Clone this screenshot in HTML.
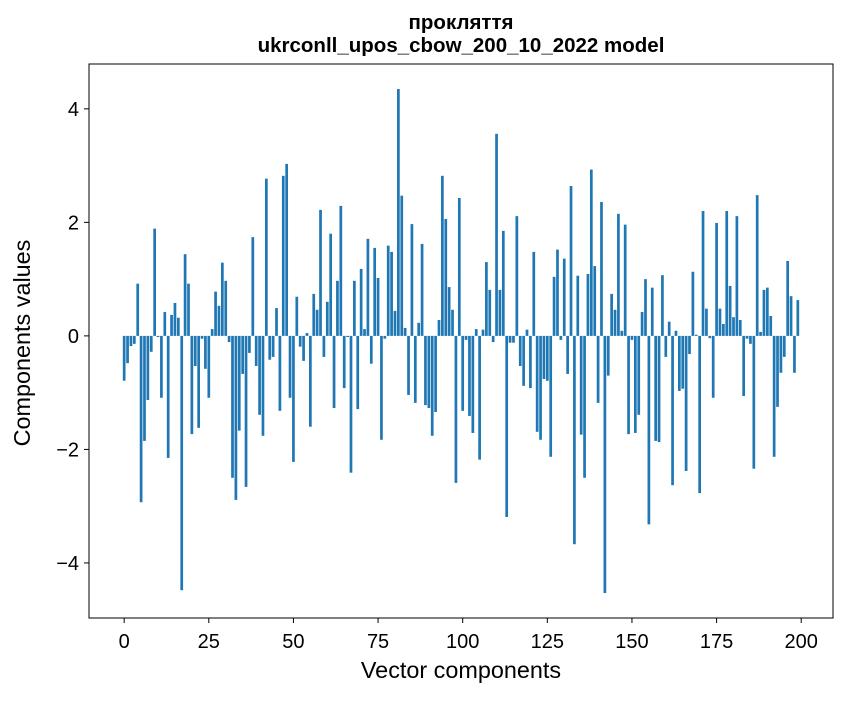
<!DOCTYPE html>
<html><head><meta charset="utf-8"><style>
body{margin:0;background:#fff;}
svg text{font-family:"Liberation Sans","DejaVu Sans",sans-serif;}
</style></head><body>
<svg id="chart" width="847" height="696" xmlns="http://www.w3.org/2000/svg">
<rect width="847" height="696" fill="#fff"/>
<text x="461" y="29" text-anchor="middle" font-size="20.5" font-weight="bold">прокляття</text>
<text x="461" y="52" text-anchor="middle" font-size="20.5" font-weight="bold">ukrconll_upos_cbow_200_10_2022 model</text>
<g id="bars"></g>
<g id="xticks"></g>
<g id="yticks"></g>
<rect x="89" y="64" width="744" height="554" fill="none" stroke="#000" stroke-width="1"/>
<text x="461" y="678" text-anchor="middle" font-size="23.4">Vector components</text>
<text transform="translate(30,343) rotate(-90)" text-anchor="middle" font-size="23.4">Components values</text>
</svg>
<script>
const values = [
-0.79,-0.48,-0.18,-0.14,0.92,-2.93,-1.85,-1.13,-0.28,1.89,
-0.02,-1.09,0.42,-2.15,0.37,0.58,0.32,-4.48,1.44,0.92,
-1.73,-0.53,-1.62,-0.05,-0.58,-1.09,0.12,0.78,0.53,1.29,
0.97,-0.11,-2.5,-2.89,-1.67,-0.67,-2.66,-0.3,1.74,-0.53,
-1.39,-1.76,2.77,-0.42,-0.37,0.49,-1.32,2.82,3.03,-1.09,
-2.22,0.69,-0.19,-0.44,0.05,-1.6,0.74,0.46,2.22,-0.37,
0.6,1.8,-1.27,0.97,2.29,-0.92,-0.02,-2.41,0.97,-1.29,
1.18,0.12,1.71,-0.49,1.55,1.02,-1.83,-0.05,1.59,1.48,
0.44,4.35,2.47,0.14,-1.04,1.97,-1.18,0.23,1.62,-1.22,
-1.27,-1.76,-1.34,0.28,2.82,2.06,0.86,0.46,-2.59,2.43,
-1.32,-0.07,-1.41,-1.71,0.12,-2.18,0.11,1.3,0.81,-0.11,
3.56,0.81,1.85,-3.19,-0.12,-0.12,2.11,-0.53,-0.88,0.11,
-0.92,1.48,-1.69,-1.83,-0.76,-0.79,-2.13,1.04,1.52,-0.07,
1.36,-0.67,2.64,-3.67,1.06,-1.74,-2.5,1.09,2.93,1.23,
-1.18,2.36,-4.53,-0.7,0.74,0.46,2.15,0.09,1.96,-1.73,
-0.07,-1.71,-1.39,0.42,1.0,-3.32,0.85,-1.85,-1.87,1.07,
-0.37,0.25,-2.63,0.09,-0.97,-0.93,-2.38,-0.32,1.13,0.02,
-2.77,2.2,0.48,-0.04,-1.09,1.99,0.48,0.21,2.2,0.88,
0.33,2.11,0.28,-1.06,-0.05,-0.14,-2.34,2.48,0.07,0.81,
0.85,0.35,-2.13,-1.25,-0.65,-0.37,1.32,0.7,-0.65,0.63
];
const xTicks = [0,25,50,75,100,125,150,175,200];
const yTicks = [-4,-2,0,2,4];
const yTickLabels = ["\u22124","\u22122","0","2","4"];

const L=89,R=833,T=64,B=618;
const xMin=-10.39,xMax=209.39,yMin=-4.97,yMax=4.79;
function xs(v){return L+(v-xMin)/(xMax-xMin)*(R-L);}
function ys(v){return B-(v-yMin)/(yMax-yMin)*(B-T);}
const NS="http://www.w3.org/2000/svg";
const bars=document.getElementById('bars');
values.forEach((v,i)=>{
  const r=document.createElementNS(NS,'rect');
  const x0=xs(i-0.4),x1=xs(i+0.4);
  const y0=ys(Math.max(v,0)),y1=ys(Math.min(v,0));
  r.setAttribute('x',x0);r.setAttribute('width',x1-x0);
  r.setAttribute('y',y0);r.setAttribute('height',Math.max(y1-y0,0.3));
  r.setAttribute('fill','#1f77b4');
  
  
  bars.appendChild(r);
});
const xg=document.getElementById('xticks');
xTicks.forEach(t=>{
  const l=document.createElementNS(NS,'line');
  l.setAttribute('x1',xs(t));l.setAttribute('x2',xs(t));
  l.setAttribute('y1',B);l.setAttribute('y2',B+5);
  l.setAttribute('stroke','#000');
  
  
  xg.appendChild(l);
  const tx=document.createElementNS(NS,'text');
  tx.setAttribute('x',xs(t));tx.setAttribute('y',B+30);
  tx.setAttribute('text-anchor','middle');tx.setAttribute('font-size','20');
  tx.textContent=t;
  
  
  xg.appendChild(tx);
});
const yg=document.getElementById('yticks');
yTicks.forEach((t,i)=>{
  const l=document.createElementNS(NS,'line');
  l.setAttribute('x1',L-5);l.setAttribute('x2',L);
  l.setAttribute('y1',ys(t));l.setAttribute('y2',ys(t));
  l.setAttribute('stroke','#000');
  
  
  yg.appendChild(l);
  const tx=document.createElementNS(NS,'text');
  tx.setAttribute('x',L-10);tx.setAttribute('y',ys(t)+7);
  tx.setAttribute('text-anchor','end');tx.setAttribute('font-size','20');
  tx.textContent=yTickLabels[i];
  
  
  yg.appendChild(tx);
});
</script>
</body></html>
